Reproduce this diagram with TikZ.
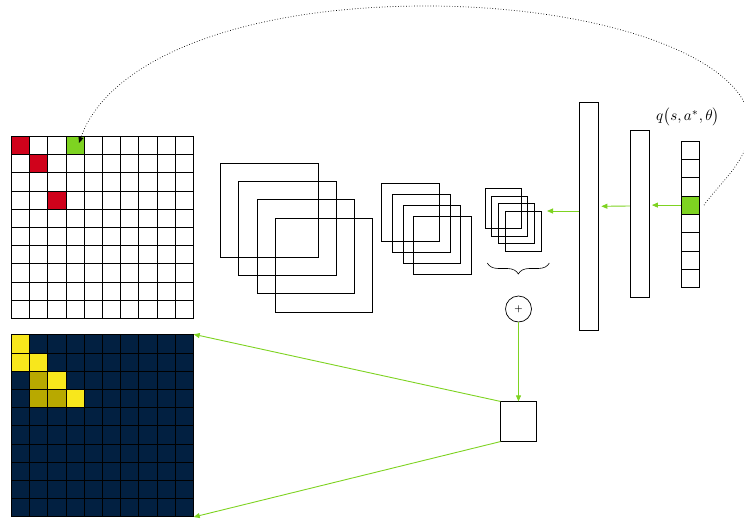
\documentclass[tikz,border=0pt]{standalone}
\usetikzlibrary{arrows.meta,decorations.pathreplacing,calc}
\definecolor{gcol}{HTML}{7ED321}
\definecolor{rcol}{HTML}{D0021B}
\definecolor{ycol}{HTML}{F8E71C}
\definecolor{ocol}{HTML}{B8A900}
\definecolor{ncol}{HTML}{022041}
\begin{document}
\begin{tikzpicture}[x=1pt,y=-1pt,
  cell/.style={draw=black,line width=0.7pt,minimum size=18.2pt,inner sep=0pt,anchor=north west},
  vcell/.style={draw=black,line width=0.7pt,minimum width=18.6pt,minimum height=18.3pt,inner sep=0pt,anchor=north west},
  fmap/.style={draw=black,line width=0.7pt,inner sep=0pt,anchor=north west},
  bar/.style={draw=black,line width=0.7pt,inner sep=0pt,minimum width=19pt},
  garrow/.style={draw=gcol,line width=0.9pt,-{Triangle[length=6pt,width=5pt]}}]
\useasboundingbox (0,0) rectangle (744,519);
% top grid
\foreach \i in {0,...,9}{\foreach \j in {0,...,9}{
  \node[cell] (a-\i-\j) at ({11+18.2*\i},{136+18.2*\j}) {};}}
\node[cell,fill=rcol] (r1) at (11,136) {};
\node[cell,fill=rcol] (r2) at (29.2,154.2) {};
\node[cell,fill=rcol] (r3) at (47.4,190.6) {};
\node[cell,fill=gcol] (gc) at (65.6,136) {};
% bottom grid
\foreach \i in {0,...,9}{\foreach \j in {0,...,9}{
  \node[cell,fill=ncol] (b-\i-\j) at ({11+18.2*\i},{334.3+18.2*\j}) {};}}
\node[cell,fill=ycol] (y1) at (11,334.3) {};
\node[cell,fill=ycol] (y2) at (11,352.5) {};
\node[cell,fill=ycol] (y3) at (29.2,352.5) {};
\node[cell,fill=ycol] (y4) at (47.4,370.7) {};
\node[cell,fill=ycol] (y5) at (65.6,388.9) {};
\node[cell,fill=ocol] (o1) at (29.2,370.7) {};
\node[cell,fill=ocol] (o2) at (29.2,388.9) {};
\node[cell,fill=ocol] (o3) at (47.4,388.9) {};
% feature maps
\foreach \k in {0,...,3}{
  \node[fmap,minimum width=97.5pt,minimum height=94pt] (f1-\k) at ({220.3+18.1*\k},{162.7+18.3*\k}) {};
  \node[fmap,minimum width=57.5pt,minimum height=58pt] (f2-\k) at ({381.3+10.7*\k},{182.7+11.2*\k}) {};
  \node[fmap,minimum width=36pt,minimum height=40pt] (f3-\k) at ({484.7+6.6*\k},{188+7.7*\k}) {};
}
\draw[line width=0.6pt,decorate,decoration={brace,mirror,amplitude=11pt}] (487.3,263) -- (549.3,263);
% dense layers
\node[bar,minimum height=227.3pt] (fc1) at (588.8,216.3) {};
\node[bar,minimum height=167pt] (fc2) at (639.8,213.8) {};
\foreach \k in {1,...,8}{
  \node[vcell] (v\k) at (680.7,{140.7+18.3*(\k-1)}) {};}
\node[vcell,fill=gcol] (gv) at (680.7,195.6) {};
\node[scale=1.5,inner sep=1pt] (lab) at (688,117) {$q\bigl(s,a^{*},\theta\bigr)$};
% plus and aggregation
\node[draw,circle,line width=0.7pt,minimum size=26pt,inner sep=0pt,font=\small\bfseries] (plus) at (518.5,309) {+};
\node[draw,line width=0.7pt,minimum width=35.5pt,minimum height=39.5pt,inner sep=0pt] (agg) at (518.5,421.5) {};
\coordinate (tip3) at (547,211);
% arrows
\draw[garrow] (gv.west) -- ([xshift=2.3pt]fc2.east |- gv.west);
\draw[garrow] (fc2.west |- 0,206) -- ([xshift=2.7pt]fc1.east |- 0,206.3);
\draw[garrow] (fc1.west |- tip3) -- (tip3);
\draw[garrow] (plus.south) -- (agg.north);
\draw[garrow] (agg.north west) -- (b-9-0.north east);
\draw[garrow] (agg.south west) -- (b-9-9.south east);
% dotted feedback curve
\coordinate (cR) at (750,125);
\coordinate (cT) at (426,6);
\coordinate (cE) at (79,143);
\draw[dotted,line width=0.7pt,-{Triangle[length=6pt,width=5pt]}]
 ([xshift=4pt]gv.east) .. controls (721,181) and (750,160) .. (cR)
 .. controls (750,59) and (605,6) .. (cT)
 .. controls (240,6) and (108,60) .. (cE);
\end{tikzpicture}
\end{document}
